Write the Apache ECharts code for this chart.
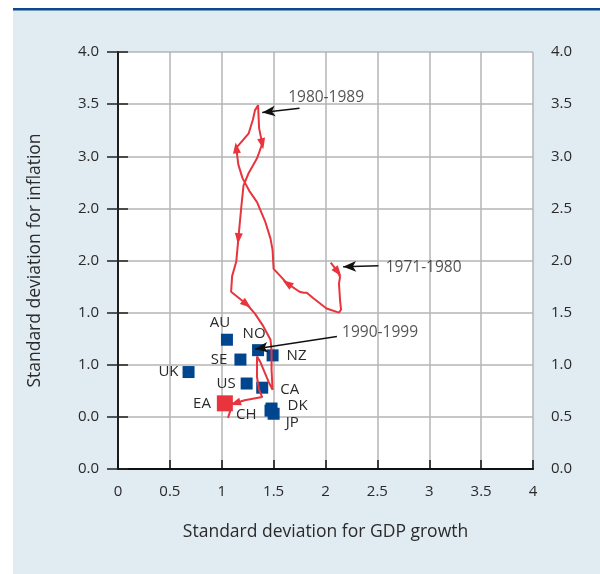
<!DOCTYPE html>
<html>
<head>
<meta charset="utf-8">
<script src="https://cdn.jsdelivr.net/npm/echarts@6/dist/echarts.min.js"></script>
<style>
  html, body { margin: 0; padding: 0; background: #fff; }
  #chart { width: 600px; height: 574px; }
</style>
</head>
<body>
<div id="chart"></div>
<script>
// tick labels (left axis is printed this way in the original)
const xTickLabels = ['0', '0.5', '1', '1.5', '2', '2.5', '3', '3.5', '4']
const leftTickLabels = ['0.0', '0.0', '1.0', '1.0', '2.0', '2.0', '3.0', '3.5', '4.0']
const rightTickLabels = ['0.0', '0.5', '1.0', '1.5', '2.0', '2.5', '3.0', '3.5', '4.0']

// countries: sd of GDP growth (x), sd of inflation (y)
const countries = ['AU', 'NO', 'SE', 'NZ', 'UK', 'US', 'CA', 'CH', 'DK', 'JP']
const gdpSd = [1.05, 1.35, 1.18, 1.49, 0.68, 1.24, 1.39, 1.47, 1.48, 1.50]
const inflSd = [1.24, 1.14, 1.05, 1.09, 0.93, 0.82, 0.78, 0.56, 0.58, 0.53]

// euro area
const eaName = ['EA']
const eaGdpSd = [1.03]
const eaInflSd = [0.63]

// euro area trajectory (rolling decades)
const pathX = [2.05, 2.12, 2.14, 2.13, 2.14, 2.15, 2.13, 2.01, 1.88, 1.82, 1.79, 1.75, 1.63, 1.50, 1.49, 1.47,
  1.42, 1.34, 1.27, 1.20, 1.16, 1.14, 1.26, 1.30, 1.32, 1.35, 1.36, 1.39, 1.34, 1.26, 1.21, 1.19,
  1.16, 1.14, 1.10, 1.09, 1.24, 1.32, 1.40, 1.47, 1.48, 1.48, 1.49, 1.45, 1.37, 1.34, 1.34, 1.36,
  1.39, 1.22, 1.13, 1.04, 1.08, 1.06]
const pathY = [1.98, 1.89, 1.84, 1.78, 1.62, 1.53, 1.50, 1.54, 1.64, 1.69, 1.69, 1.70, 1.78, 1.92, 2.10, 2.21,
  2.37, 2.56, 2.66, 2.79, 2.92, 3.08, 3.22, 3.35, 3.44, 3.49, 3.27, 3.12, 2.98, 2.84, 2.72, 2.53,
  2.21, 1.99, 1.85, 1.70, 1.58, 1.49, 1.37, 1.24, 1.14, 0.95, 0.76, 0.84, 1.03, 1.08, 0.88, 0.76,
  0.69, 0.66, 0.63, 0.62, 0.55, 0.49]
const arrowIdx = [1, 12, 21, 27, 32, 36, 50]

// decade annotations: text anchor and arrow from/to
const decades = ['1980-1989', '1971-1980', '1990-1999']
const decadeTextX = [1.64, 2.58, 2.16]
const decadeTextY = [3.56, 1.93, 1.31]
const decadeFromX = [1.75, 2.51, 2.11]
const decadeFromY = [3.46, 1.95, 1.27]
const decadeToX = [1.39, 2.17, 1.32]
const decadeToY = [3.42, 1.94, 1.15]

// label placement for each country
const labelPlace = {
  AU: { position: 'top', distance: 3, offset: [-7, 0] },
  NO: { position: 'top', distance: 3, offset: [-4, 0] },
  SE: { position: 'left', distance: 7 },
  NZ: { position: 'right', distance: 8 },
  UK: { position: 'left', distance: 4 },
  US: { position: 'left', distance: 5 },
  CA: { position: 'right', distance: 12, offset: [0, 2] },
  CH: { position: 'left', distance: 6, offset: [-2, 4] },
  DK: { position: 'right', distance: 10, offset: [0, -3] },
  JP: { position: 'right', distance: 6, offset: [0, 9] }
}

const font = '"Open Sans", "Noto Sans", sans-serif'
const textColor = '#2a2a2a'
const red = '#e8343d'
const blue = '#00468e'
const PX_X = 103.75
const PX_Y = 104.25

const chart = echarts.init(document.getElementById('chart'))

const pathData = pathX.map((x, i) => [x, pathY[i]])
const arrowData = arrowIdx.map(i => {
  const dx = (pathX[i] - pathX[i - 1]) * PX_X
  const dy = (pathY[i] - pathY[i - 1]) * PX_Y
  const ang = Math.atan2(dy, dx) * 180 / Math.PI
  return { value: [pathX[i], pathY[i]], symbolRotate: ang - 90 }
})

const countryData = countries.map((c, i) => ({
  name: c,
  value: [gdpSd[i], inflSd[i]],
  label: Object.assign({ show: true, formatter: c }, labelPlace[c])
}))

const option = {
  backgroundColor: '#e1ebf2',
  animation: false,
  textStyle: { fontFamily: font },
  graphic: [
    { type: 'rect', shape: { x: 0, y: 0, width: 600, height: 8 }, style: { fill: '#fff' }, silent: true },
    { type: 'rect', shape: { x: 0, y: 0, width: 13, height: 574 }, style: { fill: '#fff' }, silent: true },
    { type: 'rect', shape: { x: 13, y: 8, width: 587, height: 2.5 }, style: { fill: '#0b4a8e' }, silent: true }
  ],
  grid: {
    left: 118,
    right: 67,
    top: 52,
    bottom: 105,
    show: true,
    backgroundColor: '#fff',
    borderWidth: 0
  },
  xAxis: [
    {
      type: 'value',
      min: 0,
      max: 4,
      interval: 0.5,
      name: 'Standard deviation for GDP growth',
      nameLocation: 'middle',
      nameGap: 54,
      nameTextStyle: { fontSize: 17.5, color: textColor, fontFamily: font },
      axisLine: { show: true, lineStyle: { color: '#111', width: 2 } },
      axisTick: { show: true, inside: true, length: 9, lineStyle: { color: '#111', width: 1.5 } },
      axisLabel: {
        fontSize: 15,
        color: textColor,
        margin: 15,
        formatter: v => xTickLabels[Math.round(v / 0.5)]
      },
      splitLine: { show: true, lineStyle: { color: '#b4b4b4', width: 1.5 } }
    },
    {
      type: 'value',
      position: 'top',
      min: 0,
      max: 4,
      interval: 0.5,
      axisLine: { show: true, lineStyle: { color: '#111', width: 1.5 } },
      axisTick: { show: false },
      axisLabel: { show: false },
      splitLine: { show: false }
    }
  ],
  yAxis: [
    {
      type: 'value',
      min: 0,
      max: 4,
      interval: 0.5,
      name: 'Standard deviation for inflation',
      nameLocation: 'middle',
      nameGap: 74,
      nameTextStyle: { fontSize: 17.5, color: textColor, fontFamily: font },
      axisLine: { show: true, lineStyle: { color: '#444', width: 2 } },
      axisTick: { show: true, inside: false, length: 11, lineStyle: { color: '#222', width: 1.5 } },
      axisLabel: {
        fontSize: 15,
        color: textColor,
        margin: 19,
        formatter: v => leftTickLabels[Math.round(v / 0.5)]
      },
      splitLine: { show: true, lineStyle: { color: '#b4b4b4', width: 1.5 } }
    },
    {
      type: 'value',
      position: 'right',
      min: 0,
      max: 4,
      interval: 0.5,
      axisLine: { show: true, lineStyle: { color: '#111', width: 1.5 } },
      axisTick: { show: true, inside: false, length: 10, lineStyle: { color: '#222', width: 1.5 } },
      axisLabel: {
        fontSize: 15,
        color: textColor,
        margin: 18,
        formatter: v => rightTickLabels[Math.round(v / 0.5)]
      },
      splitLine: { show: false }
    }
  ],
  series: [
    {
      name: 'countries',
      type: 'scatter',
      symbol: 'rect',
      symbolSize: 12,
      itemStyle: { color: blue, opacity: 1 },
      label: { color: textColor, fontSize: 15, fontFamily: font },
      data: countryData,
      z: 2
    },
    {
      name: 'path',
      type: 'line',
      data: pathData,
      showSymbol: false,
      symbol: 'none',
      lineStyle: { color: red, width: 2 },
      z: 3
    },
    {
      name: 'arrows',
      type: 'scatter',
      symbol: 'triangle',
      symbolSize: [8, 11],
      itemStyle: { color: red, opacity: 1 },
      data: arrowData,
      z: 4
    },
    {
      name: 'EA',
      type: 'scatter',
      symbol: 'rect',
      symbolSize: 16,
      itemStyle: { color: red, opacity: 1 },
      label: {
        show: true,
        position: 'left',
        distance: 6,
        color: textColor,
        fontSize: 15,
        fontFamily: font,
        formatter: p => eaName[p.dataIndex]
      },
      data: eaGdpSd.map((x, i) => [x, eaInflSd[i]]),
      z: 5
    },
    {
      name: 'decades',
      type: 'scatter',
      symbolSize: 0,
      label: {
        show: true,
        position: 'right',
        distance: 0,
        color: textColor,
        fontSize: 15.5,
        fontFamily: font,
        formatter: p => decades[p.dataIndex]
      },
      data: decadeTextX.map((x, i) => [x, decadeTextY[i]]),
      markLine: {
        silent: true,
        symbol: ['none', 'arrow'],
        symbolSize: [8, 13],
        label: { show: false },
        lineStyle: { color: '#111', width: 1.5, type: 'solid' },
        data: decades.map((d, i) => [
          { coord: [decadeFromX[i], decadeFromY[i]] },
          { coord: [decadeToX[i], decadeToY[i]] }
        ])
      },
      z: 6
    }
  ]
}

chart.setOption(option)
</script>
</body>
</html>
